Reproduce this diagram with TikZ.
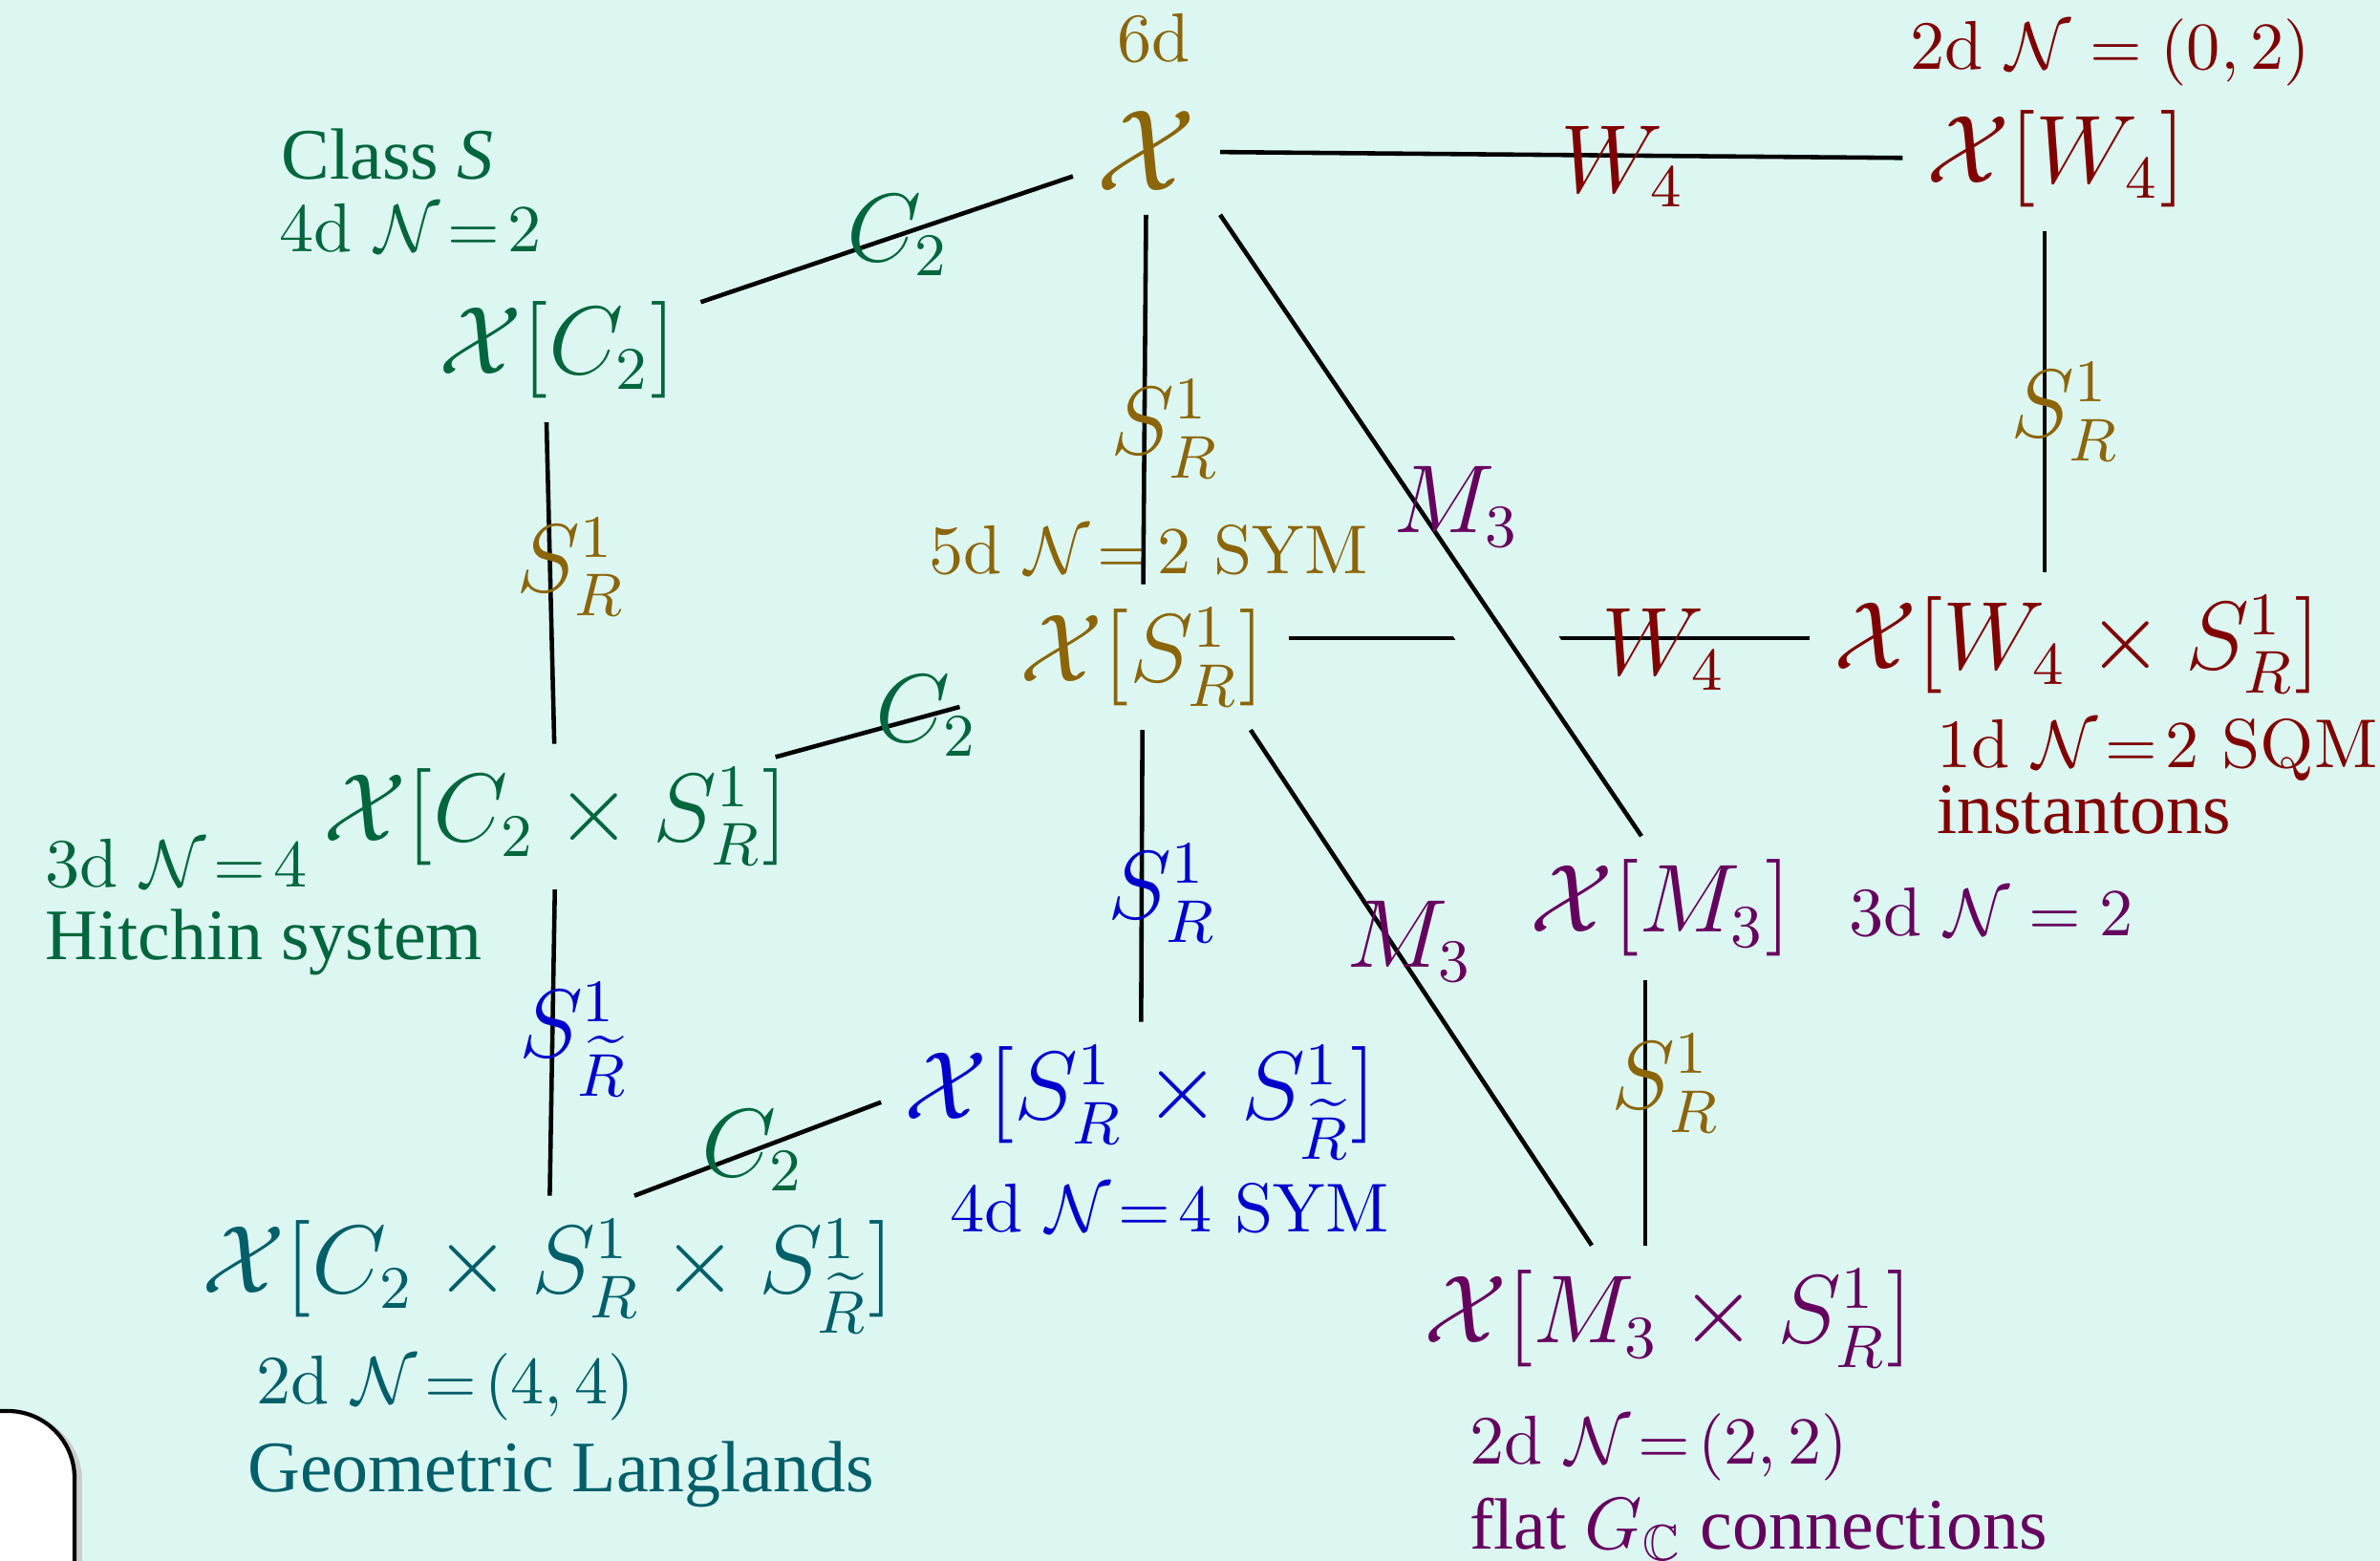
\documentclass[tikz,border=0pt]{standalone}
\usepackage{amsmath,amssymb}
\usepackage{fontspec}
\usepackage{tikz}
\newfontfamily\wordfont{Liberation Serif}
\definecolor{slidebg}{HTML}{DCF7F2}
\definecolor{sixd}{HTML}{8B6508}
\definecolor{classS}{HTML}{00663D}
\definecolor{langl}{HTML}{005F69}
\definecolor{instc}{HTML}{800000}
\definecolor{flatc}{HTML}{66005E}
\definecolor{symc}{HTML}{0000CD}
\newcommand{\teq}{\mskip2mu{=}\mskip2mu}

\begin{document}
\begin{tikzpicture}[
  thy/.style={anchor=base,font=\fontsize{13.5}{16}\selectfont},
  elab/.style={font=\fontsize{13.5}{16}\selectfont,inner sep=0pt},
  dimtext/.style={anchor=base west,inner sep=0pt,font=\fontsize{10.3}{12}\selectfont},
  words/.style={anchor=base west,inner sep=0pt,font=\wordfont\fontsize{10.8}{13}\selectfont},
  link/.style={draw=black,line width=0.65pt}
]
\fill[slidebg] (0,0) rectangle (12.455,8.17);
\useasboundingbox (0,0) rectangle (12.455,8.17);
% corner of the slide box
\fill[black!20] (-0.5,-0.5) [rounded corners=3.5mm] rectangle (0.43,0.77);
\draw[fill=white,line width=0.6pt,rounded corners=3.5mm] (-0.5,-0.5) rectangle (0.39,0.785);

% theories
\node[thy,text=sixd,font=\fontsize{17.5}{20}\selectfont] (x6) at (6.00,7.17) {$\mathcal{X}$};
\node[thy,text=instc] (xw4) at (10.76,7.21) {$\mathcal{X}[W_4]$};
\node[thy,text=classS] (xc2) at (2.92,6.21) {$\mathcal{X}[C_2]$};
\node[thy,text=sixd] (s5) at (5.98,4.60) {$\mathcal{X}[S^1_R]$};
\node[thy,text=instc] (w4s) at (10.87,4.665) {$\mathcal{X}[W_4\times S^1_R]$};
\node[thy,text=classS] (c2s) at (2.91,3.765) {$\mathcal{X}[C_2\times S^1_R]$};
\node[thy,text=flatc] (m3) at (8.69,3.29) {$\mathcal{X}[M_3]$};
\node[thy,text=symc] (ss) at (5.97,2.31) {$\mathcal{X}[S^1_R\times S^1_{\widetilde{R}}]$};
\node[thy,text=langl] (c2ss) at (2.87,1.40) {$\mathcal{X}[C_2\times S^1_R\times S^1_{\widetilde{R}}]$};
\node[thy,text=flatc] (m3s) at (8.73,1.14) {$\mathcal{X}[M_3\times S^1_R]$};

% what each one is
\node[dimtext,text=sixd] (d6) at (5.84,7.845) {6d};
\node[dimtext,text=instc] (d2a) at (9.99,7.805) {2d $\mathcal{N}=(0,2)$};
\node[words,text=classS] (clS) at (1.467,7.23) {Class \textit{S}};
\node[dimtext,text=classS] (d4a) at (1.455,6.85) {4d $\mathcal{N}\teq 2$};
\node[dimtext,text=sixd] (d5) at (4.855,5.165) {5d $\mathcal{N}\teq 2$ SYM};
\node[dimtext,text=instc] (d1) at (10.13,4.15) {1d $\mathcal{N}\teq 2$ SQM};
\node[words,text=instc] (ninst) at (10.13,3.805) {instantons};
\node[dimtext,text=classS] (d3a) at (0.23,3.527) {3d $\mathcal{N}\teq 4$};
\node[words,text=classS] (hit) at (0.23,3.145) {Hitchin system};
\node[dimtext,text=flatc] (d3b) at (9.67,3.27) {3d $\mathcal{N} = 2$};
\node[dimtext,text=symc] (d4b) at (4.965,1.72) {4d $\mathcal{N}\teq 4$ SYM};
\node[dimtext,text=langl] (d2b) at (1.335,0.82) {2d $\mathcal{N}\teq (4,4)$};
\node[words,text=langl] (gl) at (1.29,0.36) {Geometric Langlands};
\node[dimtext,text=flatc] (d2c) at (7.685,0.505) {2d $\mathcal{N}\teq (2,2)$};
\node[words,text=flatc] (nflat) at (7.685,0.0615) {flat $G_{\mathbb{C}}$ connections};

% compactifications
\draw[link] (x6) -- node[elab,text=instc,pos=0.59,yshift=-0.6mm] (lw4a) {$W_4$} (xw4);
\draw[link] (x6) -- node[elab,text=classS,pos=0.47] (lc2a) {$C_2$} (xc2);
\draw[link] (x6) -- node[elab,text=sixd,pos=0.58,xshift=1.1mm] (lsa) {$S^1_R$} (s5);
\draw[link] ([xshift=-0.6mm]xw4.south) -- node[elab,text=sixd,pos=0.53,xshift=1.1mm] (lsb) {$S^1_R$} ([xshift=-0.6mm]xw4.south |- w4s.north);
\draw[link] ([xshift=-0.6mm]xc2.south) -- node[elab,text=sixd,pos=0.45,xshift=1.1mm] (lsc) {$S^1_R$} (c2s);
\draw[link] ([yshift=1mm]s5.east) -- node[elab,text=instc,pos=0.72,yshift=-0.6mm] (lw4b) {$W_4$} ([yshift=1mm]s5.east -| w4s.west);
\draw[link,preaction={draw=slidebg,line width=13pt,shorten <=2.2cm,shorten >=0.9cm}] (x6.south east) -- node[elab,text=flatc,pos=0.47,xshift=2mm] (lm3a) {$M_3$} ([xshift=-1mm]m3.north);
\draw[link,shorten <=-2mm,shorten >=2mm] (c2s) -- node[elab,text=classS,pos=0.62] (lc2b) {$C_2$} (s5);
\draw[link] (s5) -- node[elab,text=symc,pos=0.56,xshift=1.1mm] (lsd) {$S^1_R$} (ss);
\draw[link] ([xshift=-2mm]s5.south east) -- node[elab,text=flatc,pos=0.41,xshift=1mm] (lm3b) {$M_3$} ([xshift=-4mm]m3s.north);
\draw[link] (c2s) -- node[elab,text=symc,pos=0.49,xshift=1.1mm] (lse) {$S^1_{\widetilde{R}}$} (c2ss);
\draw[link] ([xshift=4.5mm]c2ss.north) -- node[elab,text=classS,pos=0.48] (lc2c) {$C_2$} (ss.west);
\draw[link] ([xshift=-0.8mm]m3.south) -- node[elab,text=sixd,pos=0.39,xshift=1.1mm] (lsf) {$S^1_R$} ([xshift=-0.8mm]m3.south |- m3s.north);
\end{tikzpicture}
\end{document}
